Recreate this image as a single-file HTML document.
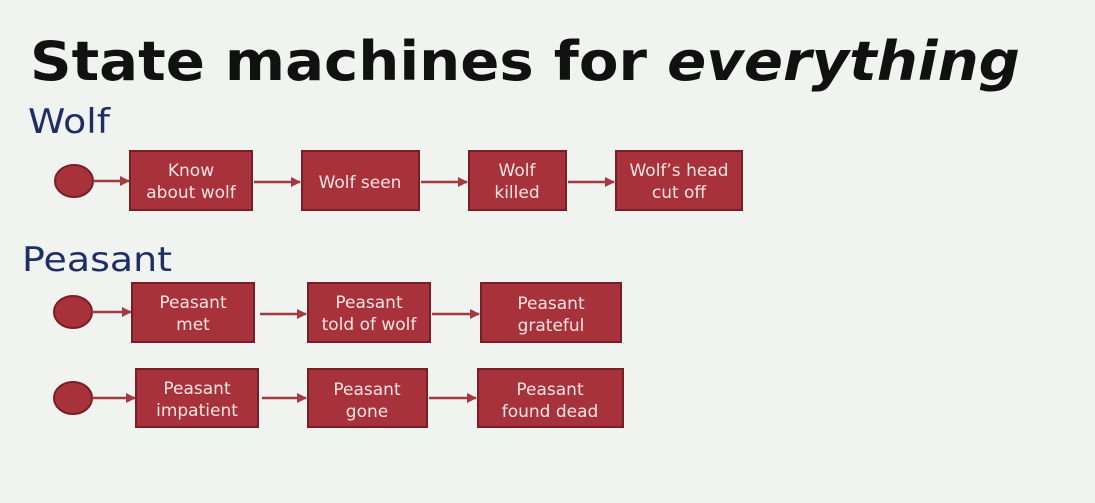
<!DOCTYPE html>
<html><head><style>
body{margin:0;background:#f1f3f0;width:1095px;height:503px;overflow:hidden;font-family:"DejaVu Sans",sans-serif}
</style></head><body>
<svg width="1095" height="503" xmlns="http://www.w3.org/2000/svg" style="position:absolute;left:0;top:0">
<defs><marker id="a" markerWidth="10" markerHeight="10" refX="9" refY="5" orient="auto" markerUnits="userSpaceOnUse"><path d="M0,0 L10,5 L0,10 z" fill="#a33a42"/></marker></defs>
<text x="30" y="80" font-size="54" font-weight="bold" fill="#111" font-family="DejaVu Sans, sans-serif" textLength="990" lengthAdjust="spacingAndGlyphs">State machines for <tspan font-style="italic">everything</tspan></text>
<text x="28" y="133" font-size="34" fill="#1f2f66" textLength="82" lengthAdjust="spacingAndGlyphs">Wolf</text>
<text x="22" y="271" font-size="34" fill="#1f2f66" textLength="150" lengthAdjust="spacingAndGlyphs">Peasant</text>
<g fill="#a8323c" stroke="#7a1e26" stroke-width="2">
<ellipse cx="74" cy="181" rx="19" ry="16"/>
<ellipse cx="73" cy="312" rx="19" ry="16"/>
<ellipse cx="73" cy="398" rx="19" ry="16"/>
<rect x="130" y="151" width="122" height="59"/>
<rect x="302" y="151" width="117" height="59"/>
<rect x="469" y="151" width="97" height="59"/>
<rect x="616" y="151" width="126" height="59"/>
<rect x="132" y="283" width="122" height="59"/>
<rect x="308" y="283" width="122" height="59"/>
<rect x="481" y="283" width="140" height="59"/>
<rect x="136" y="369" width="122" height="58"/>
<rect x="308" y="369" width="119" height="58"/>
<rect x="478" y="369" width="145" height="58"/>
</g>
<g stroke="#a33a42" stroke-width="2.5" marker-end="url(#a)">
<line x1="93" y1="181" x2="129" y2="181"/>
<line x1="254" y1="182" x2="300" y2="182"/>
<line x1="421" y1="182" x2="467" y2="182"/>
<line x1="568" y1="182" x2="614" y2="182"/>
<line x1="92" y1="312" x2="131" y2="312"/>
<line x1="260" y1="314" x2="306" y2="314"/>
<line x1="432" y1="314" x2="479" y2="314"/>
<line x1="92" y1="398" x2="135" y2="398"/>
<line x1="262" y1="398" x2="306" y2="398"/>
<line x1="429" y1="398" x2="476" y2="398"/>
</g>
<g fill="#f6e4e4" font-size="17" text-anchor="middle">
<text x="191" y="176">Know</text><text x="191" y="198">about wolf</text>
<text x="360" y="188">Wolf seen</text>
<text x="517" y="176">Wolf</text><text x="517" y="198">killed</text>
<text x="679" y="176">Wolf’s head</text><text x="679" y="198">cut off</text>
<text x="193" y="308">Peasant</text><text x="193" y="330">met</text>
<text x="369" y="308">Peasant</text><text x="369" y="330">told of wolf</text>
<text x="551" y="309">Peasant</text><text x="551" y="331">grateful</text>
<text x="197" y="394">Peasant</text><text x="197" y="416">impatient</text>
<text x="367" y="395">Peasant</text><text x="367" y="417">gone</text>
<text x="550" y="395">Peasant</text><text x="550" y="417">found dead</text>
</g>
</svg>
</body></html>
